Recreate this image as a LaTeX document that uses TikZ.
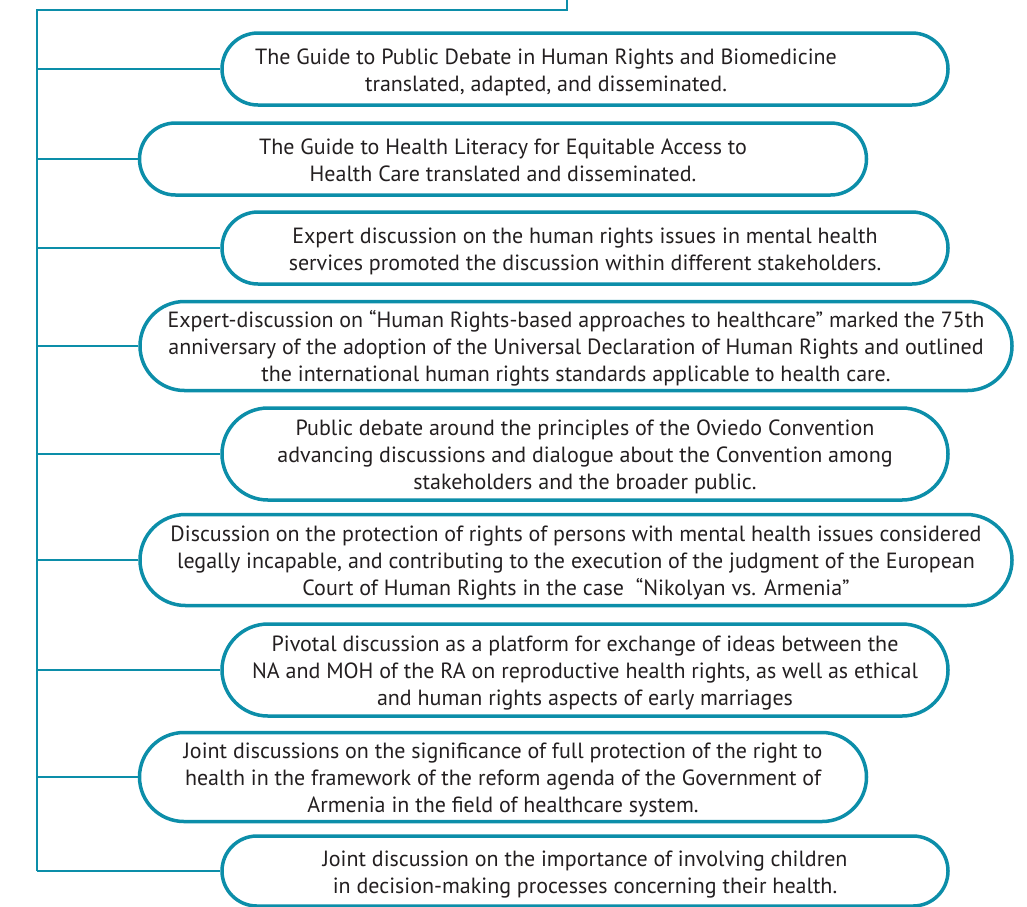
\documentclass[tikz,border=0pt]{standalone}
\usepackage{fontspec}
\setmainfont{PT Sans}
\usetikzlibrary{shapes.misc}
\definecolor{teal}{RGB}{12,142,169}
\definecolor{ink}{RGB}{35,31,32}
\newcommand{\pilltext}[1]{\raisebox{-3.5pt}[\height][\depth]{\begin{tabular}{@{}c@{}}#1\end{tabular}}}
\begin{document}
\begin{tikzpicture}[x=1pt, y=-1pt,
	pill/.style={draw=teal, line width=3.5pt, rounded rectangle, inner sep=0pt, text=ink, font=\fontsize{22pt}{27pt}\selectfont},
	branch/.style={draw=teal, line width=2.8pt}]
\useasboundingbox (0,0) rectangle (1027,906);
\node[pill, minimum width=726, minimum height=72] (b1) at (585,69) {\pilltext{The Guide to Public Debate in Human Rights and Biomedicine\rule{78pt}{0pt}\\translated, adapted, and disseminated.\rule{78pt}{0pt}}};
\node[pill, minimum width=727, minimum height=72] (b2) at (503,159) {\pilltext{The Guide to Health Literacy for Equitable Access to\\Health Care translated and disseminated.}};
\node[pill, minimum width=726, minimum height=72] (b3) at (585,248) {\pilltext{Expert discussion on the human rights issues in mental health\\services promoted the discussion within different stakeholders.}};
\node[pill, minimum width=872, minimum height=89] (b4) at (576,346) {\pilltext{Expert-discussion on “Human Rights-based approaches to healthcare” marked the 75th\\anniversary of the adoption of the Universal Declaration of Human Rights and outlined\\the international human rights standards applicable to health care.}};
\node[pill, minimum width=726, minimum height=92] (b5) at (585,454) {\pilltext{Public debate around the principles of the Oviedo Convention\\advancing discussions and dialogue about the Convention among\\stakeholders and the broader public.}};
\node[pill, minimum width=872, minimum height=91] (b6) at (576,560) {\pilltext{Discussion on the protection of rights of persons with mental health issues considered\\legally incapable, and contributing to the execution of the judgment of the European\\Court of Human Rights in the case \ “Nikolyan vs. Armenia”}};
\node[pill, minimum width=726, minimum height=92] (b7) at (585,670) {\pilltext{Pivotal discussion as a platform for exchange of ideas between the\\NA and MOH of the RA on reproductive health rights, as well as ethical\\and human rights aspects of early marriages}};
\node[pill, minimum width=727, minimum height=89] (b8) at (503,777) {\pilltext{Joint discussions on the significance of full protection of the right to\\health in the framework of the reform agenda of the Government of\\Armenia in the field of healthcare system.}};
\node[pill, minimum width=726, minimum height=70] (b9) at (585,871) {\pilltext{Joint discussion on the importance of involving children\\in decision-making processes concerning their health.}};
\coordinate (top) at (567,0);
\coordinate (spine) at (37,10);
\draw[branch, line join=miter] (top) |- (spine) -- (spine |- b9.west); % main line
\foreach \i in {1,...,9}
	\draw[branch] (spine |- b\i.west) -- (b\i.west);
\end{tikzpicture}
\end{document}
